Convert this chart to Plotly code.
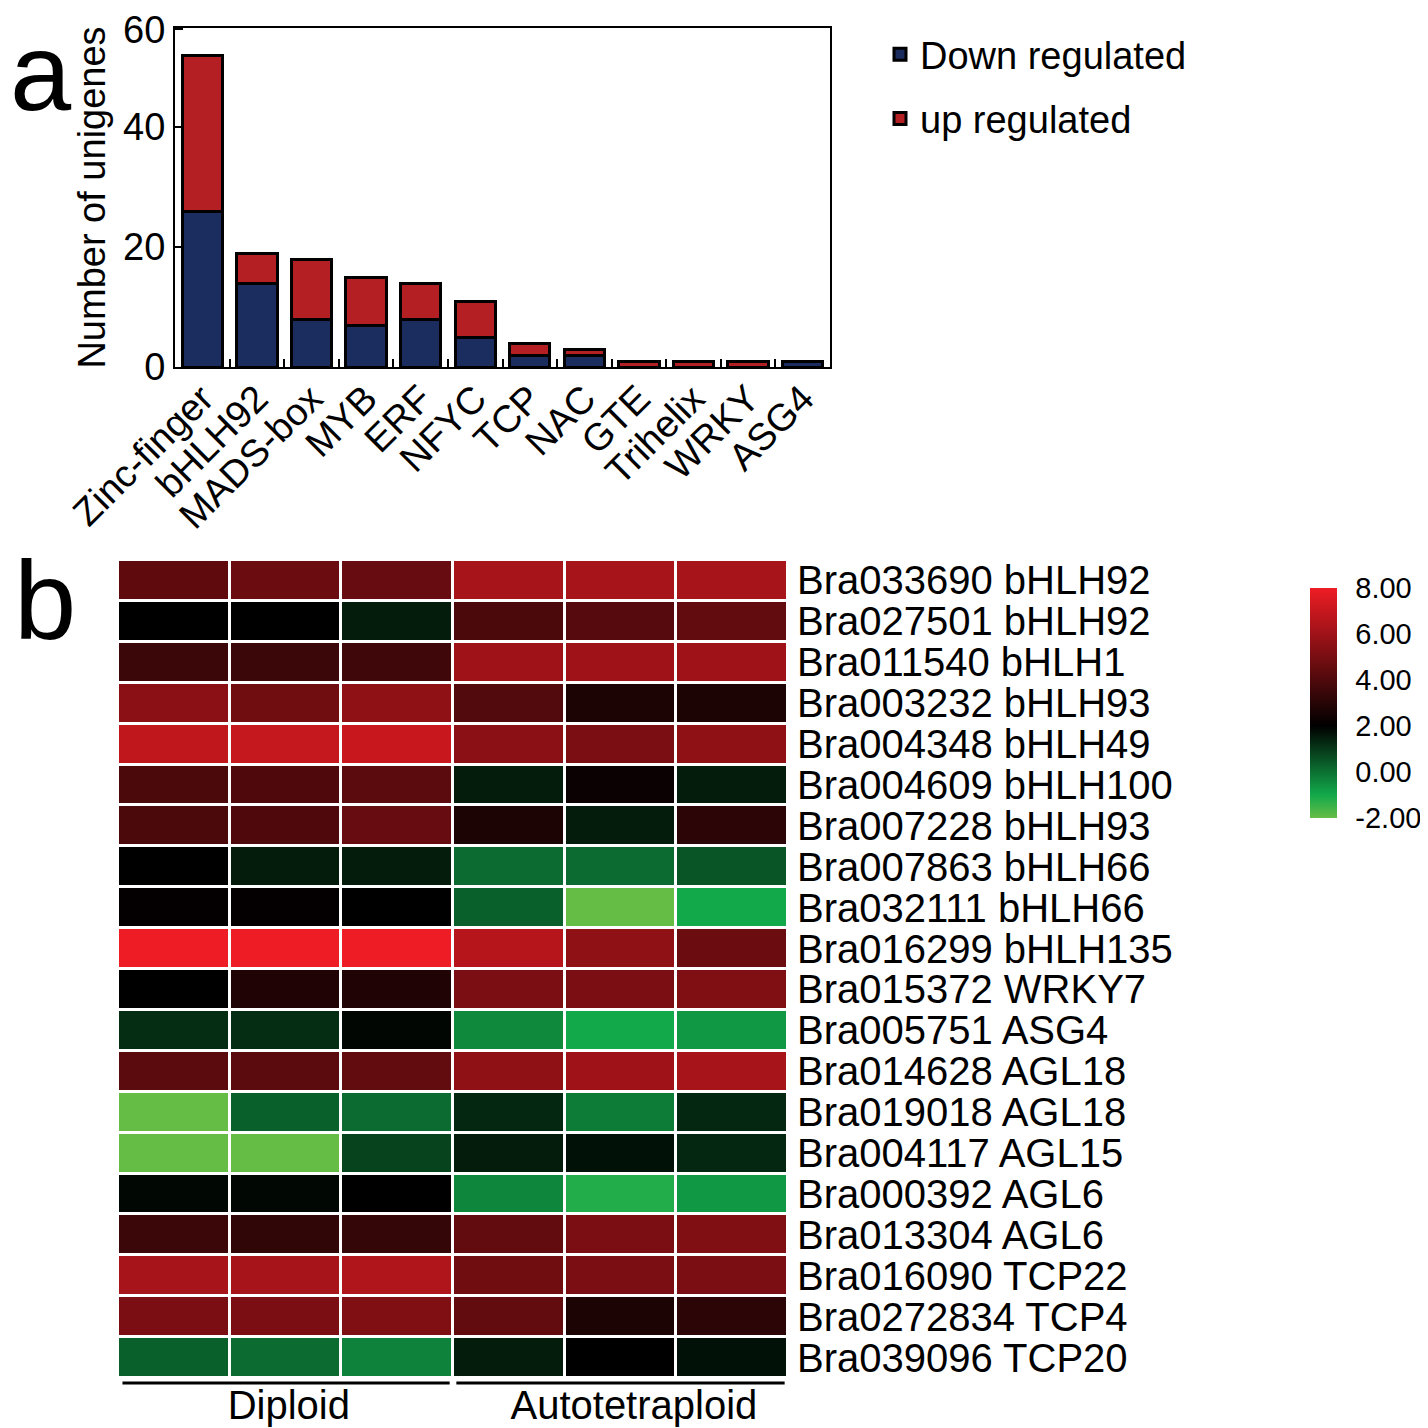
import plotly.graph_objects as go

# ---------------- data: panel a ----------------
families = ["Zinc-finger", "bHLH92", "MADS-box", "MYB", "ERF", "NFYC", "TCP",
            "NAC", "GTE", "Trihelix", "WRKY", "ASG4"]
down_regulated = [26, 14, 8, 7, 8, 5, 2, 2, 0, 0, 0, 1]
up_regulated = [26, 5, 10, 8, 6, 6, 2, 1, 1, 1, 1, 0]
y_tick_vals = [0, 20, 40, 56.3]
y_tick_text = ["0", "20", "40", "60"]

# ---------------- data: panel b ----------------
genes = ["Bra033690 bHLH92", "Bra027501 bHLH92", "Bra011540 bHLH1", "Bra003232 bHLH93",
         "Bra004348 bHLH49", "Bra004609 bHLH100", "Bra007228 bHLH93", "Bra007863 bHLH66",
         "Bra032111 bHLH66", "Bra016299 bHLH135", "Bra015372 WRKY7", "Bra005751 ASG4",
         "Bra014628 AGL18", "Bra019018 AGL18", "Bra004117 AGL15", "Bra000392 AGL6",
         "Bra013304 AGL6", "Bra016090 TCP22", "Bra0272834 TCP4", "Bra039096 TCP20"]
samples = [0, 1, 2, 3, 4, 5]
group_labels = ["Diploid", "Autotetraploid"]
group_centers = [1.03, 4.12]
expression = [
    [4.4, 4.7, 4.6, 6.2, 6.2, 6.2],
    [2.0, 2.0, 1.5, 3.9, 4.2, 4.5],
    [3.5, 3.5, 3.6, 6.0, 6.0, 6.0],
    [5.5, 4.8, 5.6, 4.1, 2.7, 2.7],
    [6.85, 6.95, 7.05, 5.5, 5.1, 5.6],
    [3.9, 4.0, 4.3, 1.5, 2.3, 1.5],
    [3.9, 4.0, 4.6, 2.7, 1.5, 3.1],
    [2.0, 1.5, 1.5, 0.1, 0.1, 0.5],
    [2.1, 2.1, 2.0, 0.3, -2.0, -1.0],
    [8.0, 8.0, 8.0, 6.6, 5.6, 4.7],
    [2.0, 2.8, 2.8, 5.1, 5.1, 5.2],
    [1.2, 1.2, 1.9, -0.45, -1.0, -0.7],
    [4.3, 4.3, 4.5, 5.6, 6.0, 6.2],
    [-2.0, 0.3, 0.1, 1.3, -0.2, 1.3],
    [-2.0, -2.0, 0.8, 1.5, 1.7, 1.3],
    [1.85, 1.85, 2.0, -0.4, -1.2, -0.7],
    [3.5, 3.2, 3.3, 4.5, 5.1, 5.2],
    [6.2, 6.2, 6.4, 4.8, 5.1, 5.1],
    [5.1, 5.1, 5.2, 4.5, 2.7, 3.1],
    [0.3, 0.1, -0.3, 1.5, 2.0, 1.7],
]
cbar_ticks = [-2, 0, 2, 4, 6, 8]
cbar_text = ["-2.00", "0.00", "2.00", "4.00", "6.00", "8.00"]

OFF = 8          # page body margin of the HTML page
W = H = 1428 - OFF
FONT = "Liberation Sans, Arial, sans-serif"

def px_x(p):
    return (p - OFF) / W

def px_y(p):
    return 1 - (p - OFF) / H

fig = go.Figure()

fig.add_trace(go.Bar(
    x=families, y=down_regulated, name="Down regulated",
    marker=dict(color="#1b2d5e", line=dict(color="black", width=3)),
    width=0.74, xaxis="x", yaxis="y", legendgroup="d",
))
fig.add_trace(go.Bar(
    x=families, y=up_regulated, name="up regulated",
    marker=dict(color="#b41f24", line=dict(color="black", width=3)),
    width=0.74, xaxis="x", yaxis="y", legendgroup="u",
))

colorscale = [
    [0.0, "#66bd46"],
    [0.1, "#12a94b"],
    [0.4, "#000000"],
    [1.0, "#ee1c24"],
]

fig.add_trace(go.Heatmap(
    z=expression, x=samples, y=genes,
    zmin=-2, zmax=8, colorscale=colorscale,
    xgap=3, ygap=3, xaxis="x2", yaxis="y2", showlegend=False,
    colorbar=dict(
        x=px_x(1310), xanchor="left", y=px_y(703), yanchor="middle",
        xpad=0, ypad=0,
        len=230 / H, lenmode="fraction", thickness=27, thicknessmode="pixels",
        outlinewidth=0, tickvals=cbar_ticks, ticktext=cbar_text,
        tickfont=dict(family=FONT, size=29, color="black"),
        ticks="outside", ticklen=13, tickcolor="rgba(0,0,0,0)",
    ),
))

fig.update_layout(
    width=W, height=H,
    margin=dict(l=0, r=0, t=0, b=0, autoexpand=False),
    paper_bgcolor="white", plot_bgcolor="white",
    barmode="stack", bargap=0.26,
    font=dict(family=FONT, color="black"),
    showlegend=True,
    legend=dict(
        x=px_x(880), y=px_y(23), xanchor="left", yanchor="top",
        font=dict(family=FONT, size=38, color="black"),
        tracegroupgap=12, itemwidth=30, bgcolor="rgba(0,0,0,0)",
    ),
    xaxis=dict(
        domain=[px_x(175), px_x(830)], anchor="y", automargin=False,
        tickangle=-45, tickfont=dict(size=38, color="black"),
        showline=True, linecolor="black", linewidth=2, mirror=True,
        ticks="inside", tickson="boundaries", ticklen=8, tickwidth=2, tickcolor="black",
        showgrid=False, zeroline=False, ticklabelstandoff=-8,
    ),
    yaxis=dict(
        domain=[px_y(367), px_y(28)], anchor="x", automargin=False,
        range=[0, 56.5], tickvals=y_tick_vals, ticktext=y_tick_text,
        tickfont=dict(size=38, color="black"),
        showline=True, linecolor="black", linewidth=2, mirror=True,
        ticks="inside", ticklen=8, tickwidth=2, tickcolor="black",
        showgrid=False, zeroline=False,
        title=dict(text="Number of unigenes", font=dict(size=38, color="black"), standoff=6),
    ),
    xaxis2=dict(
        domain=[px_x(118), px_x(788)], anchor="y2", automargin=False,
        range=[-0.5, 5.5], tickvals=group_centers, ticktext=group_labels,
        tickfont=dict(family="Liberation Sans Narrow, " + FONT, size=40, color="black"),
        ticks="", showgrid=False, zeroline=False, showline=False,
        ticklabelstandoff=0,
    ),
    yaxis2=dict(
        domain=[px_y(1378), px_y(560)], anchor="x2", side="right", automargin=False,
        autorange="reversed", tickmode="array", tickvals=genes, ticktext=genes,
        tickfont=dict(size=40, color="black"),
        ticks="", showgrid=False, zeroline=False, showline=False,
        ticklabelstandoff=8,
    ),
)

# group underline bars beneath the heatmap
for x0, x1 in [(-0.46, 2.47), (2.53, 5.47)]:
    fig.add_shape(type="line", xref="x2", yref="paper", x0=x0, x1=x1,
                  y0=px_y(1383), y1=px_y(1383), line=dict(color="black", width=3))

# panel letters
fig.add_annotation(text="a", x=px_x(8), y=1.0, xref="paper", yref="paper",
                   xanchor="left", yanchor="top", showarrow=False,
                   font=dict(size=110, family=FONT, color="black"))
fig.add_annotation(text="b", x=px_x(12), y=px_y(536), xref="paper", yref="paper",
                   xanchor="left", yanchor="top", showarrow=False,
                   font=dict(size=112, family=FONT, color="black"))

fig.write_html("out.html")
